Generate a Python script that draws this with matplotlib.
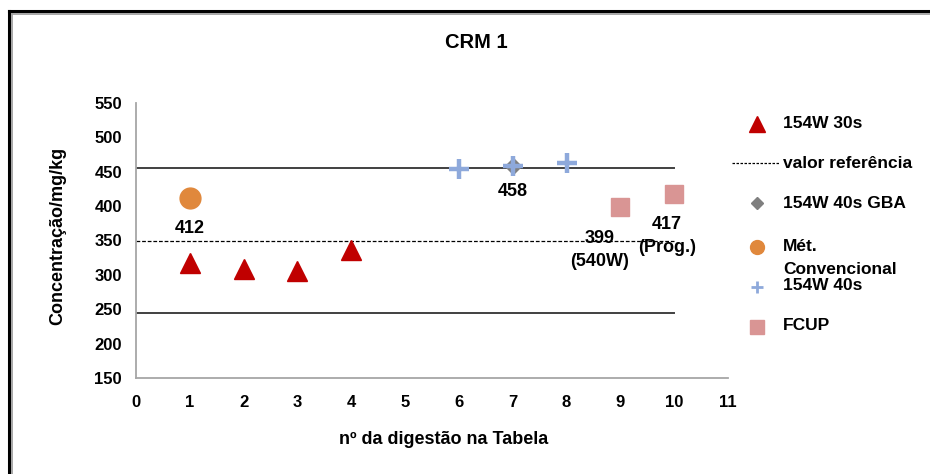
import matplotlib.pyplot as plt
from matplotlib.lines import Line2D

plt.rcParams['font.family'] = ['Liberation Sans', 'DejaVu Sans']
plt.rcParams['font.weight'] = 'bold'

# data
x_30s = [1, 2, 3, 4]
y_30s = [318, 308, 306, 336]
x_conv = [1]
y_conv = [412]
x_40s = [6, 7, 8]
y_40s = [454, 458, 463]
x_gba = [7]
y_gba = [458]
x_fcup = [9, 10]
y_fcup = [399, 417]
ref_value = 350
ref_upper = 455
ref_lower = 245
line_x = [0, 10]

labels = [
    (1, 412, '412', 0, -22),
    (7, 458, '458', 0, -18),
    (9, 399, '399\n(540W)', -15, -31),
    (10, 417, '417\n(Prog.)', -5, -30),
]

W, H = 930, 474
fig = plt.figure(figsize=(9.3, 4.74), dpi=100)
ax = fig.add_axes([136 / W, 1 - 378 / H, (728 - 136) / W, (378 - 103) / H])

# reference lines
ax.plot(line_x, [ref_upper, ref_upper], color='#404040', lw=1.4)
ax.plot(line_x, [ref_lower, ref_lower], color='#404040', lw=1.4)
ax.plot(line_x, [ref_value, ref_value], color='black', lw=0.9, ls=(0, (3, 1.5)))

# series
ax.plot(x_30s, y_30s, ls='none', marker='^', ms=14, color='#C00000')
ax.plot(x_gba, y_gba, ls='none', marker='D', ms=8, color='#7F7F7F')
ax.plot(x_conv, y_conv, ls='none', marker='o', ms=15, color='#E0883C')
ax.plot(x_40s, y_40s, ls='none', marker='+', ms=14, mew=3.2, color='#8EA9DB')
ax.plot(x_fcup, y_fcup, ls='none', marker='s', ms=13, color='#D99594')

for xv, yv, txt, dx, dy in labels:
    ax.annotate(txt, xy=(xv, yv), xytext=(dx, dy), textcoords='offset points',
                ha='center', va='center', fontsize=13, fontweight='bold',
                linespacing=1.45)

ax.set_xlim(0, 11)
ax.set_ylim(150, 550)
ax.set_xticks(range(0, 12))
ax.set_yticks(range(150, 551, 50))
ax.tick_params(length=0, labelsize=12)
ax.tick_params(axis='x', pad=12)
ax.tick_params(axis='y', pad=10)
for t in ax.get_xticklabels() + ax.get_yticklabels():
    t.set_fontweight('bold')
for s in ['top', 'right']:
    ax.spines[s].set_visible(False)
for s in ['left', 'bottom']:
    ax.spines[s].set_color('#A6A6A6')
    ax.spines[s].set_linewidth(1.3)

fig.text(476 / W, 1 - 42 / H, 'CRM 1', ha='center', va='center',
         fontsize=14.5, fontweight='bold')
fig.text(58 / W, 1 - 236 / H, 'Concentração/mg/kg', ha='center', va='center',
         rotation=90, fontsize=13, fontweight='bold')
fig.text(444 / W, 1 - 440 / H, 'nº da digestão na Tabela', ha='center',
         va='center', fontsize=13, fontweight='bold')

# legend drawn by hand (text runs off the right edge like the original)
def fx(px):
    return px / W

def fy(py):
    return 1 - py / H

mk = dict(ls='none', transform=fig.transFigure)
fig.add_artist(Line2D([fx(757)], [fy(124)], marker='^', ms=11, color='#C00000', **mk))
fig.add_artist(Line2D([fx(732), fx(780)], [fy(163), fy(163)], color='black',
                      lw=0.9, ls=(0, (2, 1.2)), transform=fig.transFigure))
fig.add_artist(Line2D([fx(757)], [fy(203)], marker='D', ms=6.5, color='#7F7F7F', **mk))
fig.add_artist(Line2D([fx(757)], [fy(247)], marker='o', ms=10, color='#E0883C', **mk))
fig.add_artist(Line2D([fx(757)], [fy(287)], marker='+', ms=9, mew=2, color='#8EA9DB', **mk))
fig.add_artist(Line2D([fx(757)], [fy(327)], marker='s', ms=9.5, color='#D99594', **mk))

leg_text = [
    (124, '154W 30s'),
    (163, 'valor referência'),
    (203, '154W 40s GBA'),
    (247, 'Mét.'),
    (269, 'Convencional'),
    (286, '154W 40s'),
    (326, 'FCUP'),
]
for py, txt in leg_text:
    fig.text(fx(783), fy(py), txt, ha='left', va='center', fontsize=12.5,
             fontweight='bold')

# outer frame (top and left edges only visible)
fig.add_artist(Line2D([fx(9), fx(930)], [fy(11), fy(11)], color='black', lw=2.2,
                      transform=fig.transFigure))
fig.add_artist(Line2D([fx(9), fx(9)], [fy(11), fy(474)], color='black', lw=2.2,
                      transform=fig.transFigure))
fig.add_artist(Line2D([fx(12), fx(930)], [fy(13.5), fy(13.5)], color='#A0A0A0', lw=1.3,
                      transform=fig.transFigure))
fig.add_artist(Line2D([fx(11.5), fx(11.5)], [fy(13.5), fy(474)], color='#A0A0A0', lw=1.3,
                      transform=fig.transFigure))

fig.savefig('out.png', dpi=100)
